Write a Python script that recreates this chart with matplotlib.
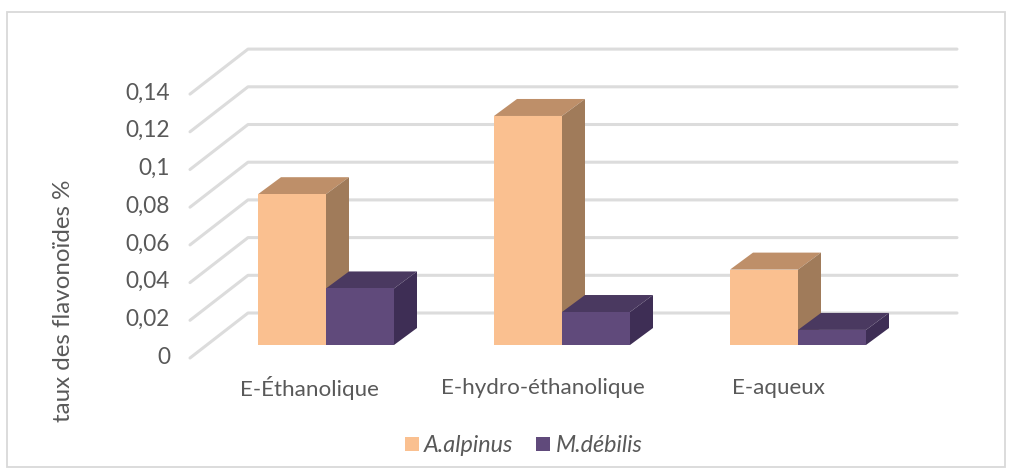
import matplotlib
matplotlib.use('Agg')
import matplotlib.pyplot as plt
from matplotlib.patches import Polygon, Rectangle

categories = ['E-Éthanolique', 'E-hydro-éthanolique', 'E-aqueux']
alpinus = [0.08, 0.1215, 0.04]
debilis = [0.03, 0.0175, 0.008]
ticks = [0, 0.02, 0.04, 0.06, 0.08, 0.1, 0.12, 0.14]
tick_labels = ['0', '0,02', '0,04', '0,06', '0,08', '0,1', '0,12', '0,14']

plt.rcParams['font.family'] = ['Lato', 'DejaVu Sans']
GREY = '#595959'
W, H = 1017, 474

fig = plt.figure(figsize=(W / 100, H / 100), dpi=100)
# x is in category units (236 px each), y in value units (37.7 px per 0.02)
px_x = 1 / 236
px_y = 0.02 / 37.7
ax = fig.add_axes([0, 0, 1, 1])
ax.set_xlim(-326 * px_x, (W - 326) * px_x)
ax.set_ylim(-(H - 345) * px_y, 345 * px_y)
ax.axis('off')

# chart frame
ax.add_patch(Rectangle((-(326 - 7) * px_x, -(467 - 345) * px_y), 998 * px_x, 455 * px_y,
                       fill=False, ec='#d9d9d9', lw=1.3))

# walls: floor depth goes up and to the right
grid_left = -136 * px_x
grid_right = 631 * px_x
floor_dy = -13 * px_y
depth_x = 58 * px_x
depth_y = 45 * px_y
for t, lab in zip(ticks, tick_labels):
    y = t + floor_dy
    ax.plot([grid_left, grid_left + depth_x, grid_right], [y, y + depth_y, y + depth_y],
            color='#dcdcdc', lw=2.2, solid_capstyle='round', zorder=1)
    ax.text(grid_left - 20 * px_x, y + 3 * px_y, lab, ha='right', va='center_baseline',
            fontsize=16.3, color=GREY)


def draw_bar(x0, width, value, front, top, side):
    dx = 23 * px_x
    dy = 17 * px_y
    x1 = x0 + width
    ax.add_patch(Polygon([(x0, value), (x1, value), (x1 + dx, value + dy), (x0 + dx, value + dy)],
                         fc=top, ec='none', zorder=3))
    ax.add_patch(Polygon([(x1, 0), (x1 + dx, dy), (x1 + dx, value + dy), (x1, value)],
                         fc=side, ec='none', zorder=3))
    ax.add_patch(Rectangle((x0, 0), width, value, fc=front, ec='none', zorder=3))


bar_w = 68 / 236
for i in range(len(categories)):
    # the taller left bar goes first, the right bar sits in front of its side
    draw_bar(i - bar_w, bar_w, alpinus[i], '#fac090', '#be8f69', '#a07b5a')
    draw_bar(i, bar_w, debilis[i], '#604a7b', '#4a3960', '#3e2e55')

label_x = [309, 543, 778]
for name, lx in zip(categories, label_x):
    ax.text((lx - 326) * px_x, -(388 - 345) * px_y, name, ha='center', va='center',
            fontsize=16.1, color=GREY)

ax.text((63 - 326) * px_x, -(301 - 345) * px_y, 'taux des flavonoïdes %', rotation=90,
        ha='center', va='center', fontsize=17.4, color=GREY)

# legend
for sx, color, name, tx in [(405, '#fac090', 'A.alpinus', 424), (536, '#604a7b', 'M.débilis', 556)]:
    ax.add_patch(Rectangle(((sx - 326) * px_x, -(451 - 345) * px_y), 14 * px_x, 14 * px_y,
                           fc=color, ec='none'))
    ax.text((tx - 326) * px_x, -(445 - 345) * px_y, name, ha='left', va='center',
            fontsize=16.8, style='italic', color=GREY)

fig.savefig('out.png', dpi=100)
